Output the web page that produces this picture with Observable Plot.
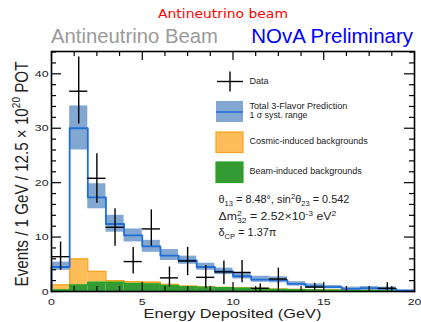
<!DOCTYPE html>
<html><head><meta charset="utf-8">
<script src="https://cdn.jsdelivr.net/npm/d3@7"></script>
<script src="https://cdn.jsdelivr.net/npm/@observablehq/plot@0.6"></script>
<style>
html,body{margin:0;padding:0;background:#fff;}
#chart{width:421px;height:322px;}
</style></head>
<body><div id="chart"></div>
<script>
// ---- data ----
const binLow = [0,1,2,3,4,5,6,7,8,9,10,11,12,13,14,15,16,17,18,19];
const binWidth = 1;
const prediction = [4.5, 30.0, 17.3, 12.4, 10.3, 8.3, 6.6, 5.7, 4.5, 3.7, 2.8, 2.2, 2.1, 1.4, 1.0, 0.8, 0.5, 0.6, 0.5, 0.15];
const systLow    = [3.9, 26.0, 15.2, 10.9, 9.1, 7.2, 5.7, 5.0, 3.9, 3.1, 2.3, 1.7, 1.6, 1.0, 0.7, 0.5, 0.3, 0.3, 0.3, 0.05];
const systHigh   = [5.4, 34.1, 19.8, 14.0, 11.5, 9.4, 7.7, 6.5, 5.2, 4.3, 3.4, 2.8, 2.7, 1.8, 1.4, 1.1, 0.8, 0.9, 0.8, 0.3];
const beamBkg    = [0.3, 1.2, 1.7, 1.7, 1.5, 1.4, 1.1, 0.9, 0.8, 0.7, 0.6, 0.5, 0.4, 0.35, 0.3, 0.25, 0.2, 0.2, 0.15, 0.1];
const cosmicBkg  = [0.9, 4.8, 2.0, 0.3, 0.3, 0.3, 0.2, 0.1, 0.05, 0.05, 0.05, 0.05, 0.05, 0.05, 0.05, 0.05, 0.05, 0, 0, 0];
const dataValue  = [6.4, 36.8, 20.8, 11.8, 5.5, 11.5, 2.5, 5.6, 2.6, 3.6, 3.5, 0.6, 2.3, null, 0.8, null, null, null, 0.6, null];
const dataLow    = [3.9, 30.8, 16.2, 8.3, 3.2, 8.3, 0.8, 2.9, 0.5, 1.3, 1.6, 0.0, 0.9, null, 0.1, null, null, null, 0.1, null];
const dataHigh   = [9.1, 43.1, 25.3, 15.2, 8.1, 15.0, 4.5, 8.1, 4.8, 5.6, 5.7, 1.4, 4.3, null, 1.5, null, null, null, 1.6, null];
const xMajorTicks = [0, 5, 10, 15, 20];
const xMinorTicks = [1.25, 2.5, 3.75, 6.25, 7.5, 8.75, 11.25, 12.5, 13.75, 16.25, 17.5, 18.75];
const yMajorTicks = [0, 10, 20, 30, 40];
const yMinorTicks = [2,4,6,8,12,14,16,18,22,24,26,28,32,34,36,38,42,44];

// ---- derived tables ----
const bins = binLow.map((lo, i) => ({
  x1: lo, x2: lo + binWidth, xc: lo + binWidth / 2,
  pred: prediction[i], sLo: systLow[i], sHi: systHigh[i],
  beam: beamBkg[i], stackTop: beamBkg[i] + cosmicBkg[i],
  d: dataValue[i], dLo: dataLow[i], dHi: dataHigh[i]
}));
const dataBins = bins.filter(b => b.d !== null);
function steps(key) {
  const pts = [{x: bins[0].x1, y: 0}];
  for (const b of bins) { pts.push({x: b.x1, y: b[key]}); pts.push({x: b.x2, y: b[key]}); }
  pts.push({x: bins[bins.length - 1].x2, y: 0});
  return pts;
}

const W = 421, H = 322, mL = 51, mR = 7, mT = 51, mB = 31;
const fw = W - mL - mR, fh = H - mT - mB;
const bandColor = "#82a8d2", lineColor = "#1f6fd6";
const orangeFill = "#ffbd59", orangeLine = "#f7a21e";
const greenFill = "#349a34", greenLine = "#26a626";
const SX = 1.3; // horizontal stretch of the reference's lettering

const plot = Plot.plot({
  width: W, height: H,
  marginLeft: mL, marginRight: mR, marginTop: mT, marginBottom: mB,
  style: {fontFamily: "'Liberation Sans', Arial, sans-serif", fontSize: "9.5px", color: "#222"},
  x: {domain: [0, 20], label: null},
  y: {domain: [0, 44.1], label: null},
  marks: [
    Plot.rectY(bins, {x1: "x1", x2: "x2", y1: 0, y2: "beam", fill: greenFill}),
    Plot.rectY(bins, {x1: "x1", x2: "x2", y1: "beam", y2: "stackTop", fill: orangeFill}),
    Plot.line(steps("stackTop"), {x: "x", y: "y", stroke: orangeLine, strokeWidth: 1.3}),
    Plot.line(steps("beam"), {x: "x", y: "y", stroke: greenLine, strokeWidth: 1.3}),
    Plot.rectY(bins, {x1: "x1", x2: "x2", y1: "sLo", y2: "sHi", fill: bandColor}),
    Plot.line(steps("pred"), {x: "x", y: "y", stroke: lineColor, strokeWidth: 1.8}),
    Plot.ruleX(dataBins, {x: "xc", y1: "dLo", y2: "dHi", stroke: "#000", strokeWidth: 1.4}),
    Plot.ruleY(dataBins, {y: "d", x1: "x1", x2: "x2", stroke: "#000", strokeWidth: 1.4}),
    // inward ticks (ROOT style)
    Plot.tickY(yMajorTicks, {y: d => d, insetRight: fw - 10, stroke: "#000", strokeWidth: 1.2}),
    Plot.tickY(yMinorTicks, {y: d => d, insetRight: fw - 5, stroke: "#000", strokeWidth: 1.2}),
    Plot.tickY(yMajorTicks, {y: d => d, insetLeft: fw - 10, stroke: "#000", strokeWidth: 1.2}),
    Plot.tickY(yMinorTicks, {y: d => d, insetLeft: fw - 5, stroke: "#000", strokeWidth: 1.2}),
    Plot.tickX(xMajorTicks, {x: d => d, insetTop: fh - 9, stroke: "#000", strokeWidth: 1.2}),
    Plot.tickX(xMinorTicks, {x: d => d, insetTop: fh - 5, stroke: "#000", strokeWidth: 1.2}),
    Plot.tickX(xMajorTicks, {x: d => d, insetBottom: fh - 9, stroke: "#000", strokeWidth: 1.2}),
    Plot.tickX(xMinorTicks, {x: d => d, insetBottom: fh - 5, stroke: "#000", strokeWidth: 1.2}),
    Plot.axisX({ticks: xMajorTicks, tickSize: 0, tickPadding: 7, label: null}),
    Plot.axisY({ticks: yMajorTicks, tickSize: 0, tickPadding: 3, label: null}),
    Plot.frame({stroke: "#000", strokeWidth: 1.6})
  ]
});
document.getElementById("chart").appendChild(plot);

const svg = d3.select(plot);
// stretch the axis tick labels horizontally like the reference
svg.selectAll("g[aria-label='x-axis tick label'] text, g[aria-label='y-axis tick label'] text")
  .each(function () {
    const t = this.getAttribute("transform") || "";
    this.setAttribute("transform", t + ` scale(${SX},1)`);
  });

// helper: scale a text horizontally (about its anchor x) to a target width
function fit(sel, target) {
  const node = sel.node();
  const w = node.getBBox().width;
  const s = target / w;
  const x = +sel.attr("x");
  sel.attr("transform", `translate(${x},0) scale(${s},1) translate(${-x},0)`);
  return sel;
}
const sans = "'Liberation Sans', Arial, sans-serif";
function txt(g, x, y, anchor, size, fill, family) {
  return g.append("text").attr("x", x).attr("y", y).attr("text-anchor", anchor)
    .attr("font-family", family || sans).attr("font-size", size).attr("fill", fill || "#222");
}

// ---- titles ----
fit(txt(svg, 223, 18, "middle", 12.5, "#ff0000", "'DejaVu Sans', sans-serif").text("Antineutrino beam"), 130);
fit(txt(svg, 51, 43.5, "start", 19.5, "#9a9a9a").text("Antineutrino Beam"), 167);
fit(txt(svg, 413, 43.5, "end", 19.5, "#0000ff").text("NOvA Preliminary"), 162);
// ---- axis titles ----
fit(txt(svg, 232.5, 318, "middle", 12.5, "#222").text("Energy Deposited (GeV)"), 178);
const yl = svg.append("text").attr("text-anchor", "middle").attr("font-family", sans)
  .attr("font-size", 13.5).attr("fill", "#222");
yl.append("tspan").text("Events / 1 GeV / 12.5 \u00d7 10");
yl.append("tspan").attr("font-size", 9).attr("dy", -6).text("20");
yl.append("tspan").attr("dy", 6).text(" POT");
{
  const w = yl.node().getBBox().width;
  yl.attr("transform", `translate(27.5,174) rotate(-90) scale(${225 / w},${SX})`);
}

// ---- legend ----
const lg = svg.append("g");
lg.append("line").attr("x1", 217).attr("x2", 243).attr("y1", 81.5).attr("y2", 81.5).attr("stroke", "#000").attr("stroke-width", 1.4);
lg.append("line").attr("x1", 230).attr("x2", 230).attr("y1", 71.5).attr("y2", 91.5).attr("stroke", "#000").attr("stroke-width", 1.4);
fit(txt(lg, 249.5, 84.5, "start", 9).text("Data"), 19);
lg.append("rect").attr("x", 216).attr("y", 101).attr("width", 27).attr("height", 21).attr("fill", bandColor);
lg.append("line").attr("x1", 216).attr("x2", 243).attr("y1", 112).attr("y2", 112).attr("stroke", lineColor).attr("stroke-width", 1.5);
fit(txt(lg, 249.5, 109.5, "start", 9).text("Total 3-Flavor Prediction"), 98);
fit(txt(lg, 249.5, 118.5, "start", 9).text("1 \u03c3 syst. range"), 58);
lg.append("rect").attr("x", 216).attr("y", 132).attr("width", 27).attr("height", 20.5).attr("fill", orangeFill).attr("stroke", orangeLine).attr("stroke-width", 1.2);
fit(txt(lg, 249.5, 144.5, "start", 9).text("Cosmic-induced backgrounds"), 119);
lg.append("rect").attr("x", 216).attr("y", 162).attr("width", 27).attr("height", 20.5).attr("fill", greenFill).attr("stroke", greenLine).attr("stroke-width", 1.2);
fit(txt(lg, 249.5, 174.5, "start", 9).text("Beam-induced backgrounds"), 113);

// ---- oscillation parameters ----
const t1 = txt(svg, 218.5, 203.5, "start", 10);
t1.append("tspan").text("\u03b8");
t1.append("tspan").attr("font-size", 7).attr("dy", 3).text("13");
t1.append("tspan").attr("dy", -3).text(" = 8.48\u00b0, sin");
t1.append("tspan").attr("font-size", 7).attr("dy", -4).text("2");
t1.append("tspan").attr("dy", 4).text("\u03b8");
t1.append("tspan").attr("font-size", 7).attr("dy", 3).text("23");
t1.append("tspan").attr("dy", -3).text(" = 0.542");
fit(t1, 131.5);
const t2 = txt(svg, 218.5, 220.5, "start", 10);
t2.append("tspan").text("\u0394m");
t2.append("tspan").attr("font-size", 7).attr("dy", -4).text("2");
t2.append("tspan").attr("font-size", 7).attr("dx", -3.9).attr("dy", 7).text("32");
t2.append("tspan").attr("dy", -3).text(" = 2.52\u00d710");
t2.append("tspan").attr("font-size", 7).attr("dy", -4).text("-3");
t2.append("tspan").attr("dy", 4).text(" eV");
t2.append("tspan").attr("font-size", 7).attr("dy", -4).text("2");
fit(t2, 118);
const t3 = txt(svg, 218.5, 236.5, "start", 10);
t3.append("tspan").text("\u03b4");
t3.append("tspan").attr("font-size", 7).attr("dy", 3).text("CP");
t3.append("tspan").attr("dy", -3).text(" = 1.37\u03c0");
fit(t3, 58);
</script>
</body></html>
